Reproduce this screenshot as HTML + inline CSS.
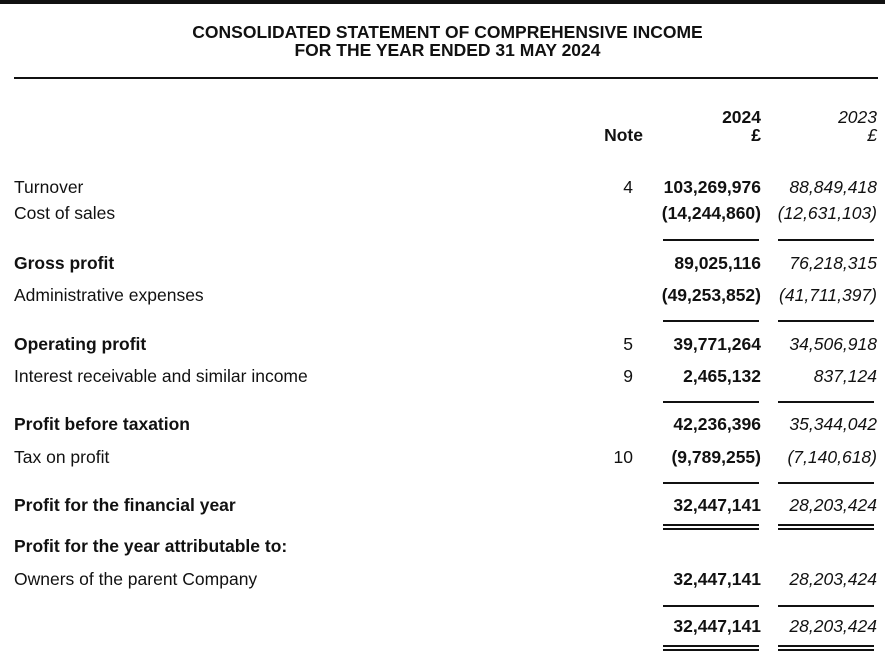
<!DOCTYPE html>
<html><head><style>
body{margin:0;width:885px;height:658px;background:#fff;position:relative;overflow:hidden;font-family:"Liberation Sans",Arial,sans-serif;color:#111;font-size:17.5px}
.t{position:absolute;line-height:20px;white-space:nowrap}
.l{left:14px}
.b{font-weight:bold}
.n{right:252px;text-align:right}
.a{right:124px;text-align:right;font-weight:bold}
.c{right:8px;text-align:right;font-style:italic}
.h{position:absolute;height:2px;background:#111}
.u1{left:663px;width:96px}
.u2{left:778px;width:96px}
</style></head><body>
<div class="h" style="left:0;top:0;width:885px;height:4px"></div>
<div class="t b" style="left:0;width:895px;text-align:center;top:22px">CONSOLIDATED STATEMENT OF COMPREHENSIVE INCOME</div>
<div class="t b" style="left:0;width:895px;text-align:center;top:40px">FOR THE YEAR ENDED 31 MAY 2024</div>
<div class="h" style="left:14px;top:77px;width:864px"></div>

<div class="t a" style="top:107px">2024</div>
<div class="t c" style="top:107px">2023</div>
<div class="t b" style="right:242px;top:125px">Note</div>
<div class="t a" style="top:125px">£</div>
<div class="t c" style="top:125px">£</div>

<div class="t l" style="top:177px">Turnover</div><div class="t n" style="top:177px">4</div><div class="t a" style="top:177px">103,269,976</div><div class="t c" style="top:177px">88,849,418</div>
<div class="t l" style="top:203px">Cost of sales</div><div class="t a" style="top:203px">(14,244,860)</div><div class="t c" style="top:203px">(12,631,103)</div>
<div class="h u1" style="top:239px"></div><div class="h u2" style="top:239px"></div>
<div class="t l b" style="top:253px">Gross profit</div><div class="t a" style="top:253px">89,025,116</div><div class="t c" style="top:253px">76,218,315</div>
<div class="t l" style="top:285px">Administrative expenses</div><div class="t a" style="top:285px">(49,253,852)</div><div class="t c" style="top:285px">(41,711,397)</div>
<div class="h u1" style="top:320px"></div><div class="h u2" style="top:320px"></div>
<div class="t l b" style="top:334px">Operating profit</div><div class="t n" style="top:334px">5</div><div class="t a" style="top:334px">39,771,264</div><div class="t c" style="top:334px">34,506,918</div>
<div class="t l" style="top:366px">Interest receivable and similar income</div><div class="t n" style="top:366px">9</div><div class="t a" style="top:366px">2,465,132</div><div class="t c" style="top:366px">837,124</div>
<div class="h u1" style="top:401px"></div><div class="h u2" style="top:401px"></div>
<div class="t l b" style="top:414px">Profit before taxation</div><div class="t a" style="top:414px">42,236,396</div><div class="t c" style="top:414px">35,344,042</div>
<div class="t l" style="top:447px">Tax on profit</div><div class="t n" style="top:447px">10</div><div class="t a" style="top:447px">(9,789,255)</div><div class="t c" style="top:447px">(7,140,618)</div>
<div class="h u1" style="top:482px"></div><div class="h u2" style="top:482px"></div>
<div class="t l b" style="top:495px">Profit for the financial year</div><div class="t a" style="top:495px">32,447,141</div><div class="t c" style="top:495px">28,203,424</div>
<div class="h u1" style="top:524px"></div><div class="h u2" style="top:524px"></div>
<div class="h u1" style="top:528px"></div><div class="h u2" style="top:528px"></div>
<div class="t l b" style="top:536px">Profit for the year attributable to:</div>
<div class="t l" style="top:569px">Owners of the parent Company</div><div class="t a" style="top:569px">32,447,141</div><div class="t c" style="top:569px">28,203,424</div>
<div class="h u1" style="top:605px"></div><div class="h u2" style="top:605px"></div>
<div class="t a" style="top:616px">32,447,141</div><div class="t c" style="top:616px">28,203,424</div>
<div class="h u1" style="top:645px"></div><div class="h u2" style="top:645px"></div>
<div class="h u1" style="top:649px"></div><div class="h u2" style="top:649px"></div>
</body></html>
